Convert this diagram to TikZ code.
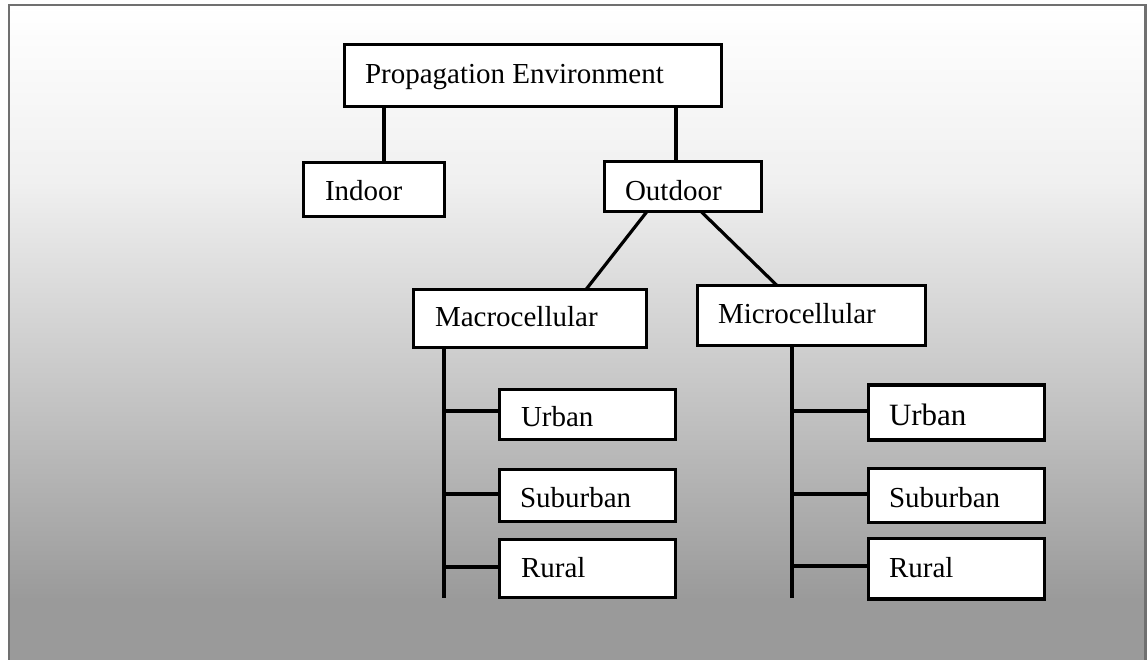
\documentclass[tikz,border=0pt]{standalone}
\usepackage{fontspec}
\setmainfont{Liberation Serif}
\usetikzlibrary{calc}

% background gradient: white at the top, mid grey towards the bottom
\definecolor{bgA}{RGB}{154,154,154}
\definecolor{bgB}{RGB}{200,200,200}
\definecolor{bgC}{RGB}{240,240,240}
\definecolor{framegray}{RGB}{112,112,112}
\pgfdeclareverticalshading{bgshade}{100bp}{%
  color(0bp)=(bgA); color(25bp)=(bgA); color(29.9bp)=(bgA);
  color(46.6bp)=(bgB); color(61.7bp)=(bgC); color(75bp)=(white);
  color(100bp)=(white)}

\tikzset{
  box/.style={draw=black, line width=3.4pt, fill=white, rectangle,
              inner sep=0pt, outer sep=0pt},
  lbl/.style={anchor=base west, inner sep=0pt, outer sep=0pt,
              font=\fontsize{29}{34}\selectfont},
  biglbl/.style={lbl, font=\fontsize{31}{36}\selectfont},
  link/.style={draw=black, line width=3.2pt},
}

\begin{document}
\begin{tikzpicture}[x=1pt, y=-1pt]
  \useasboundingbox (0,0) rectangle (1147,659);
  \clip (0,0) rectangle (1147,659);

  % shaded panel with grey frame
  \path[shading=bgshade, draw=framegray, line width=2.5pt]
    (8.75,5) rectangle (1145.5,665);

  % boxes (line-centre geometry)
  \node[box, minimum width=377, minimum height=62] (pe)      at (533,75.5)   {};
  \node[box, minimum width=141, minimum height=54] (indoor)  at (374,189.5)  {};
  \node[box, minimum width=157, minimum height=50] (outdoor) at (683,186.5)  {};
  \node[box, minimum width=233, minimum height=58] (macro)   at (530,318.5)  {};
  \node[box, minimum width=228, minimum height=60] (micro)   at (811.5,315.5){};

  \node[box, minimum width=176, minimum height=50] (mu) at (587.5,414.5) {};
  \node[box, minimum width=176, minimum height=52] (ms) at (587.5,495.5) {};
  \node[box, minimum width=176, minimum height=58] (mr) at (587.5,568.5) {};

  \node[box, minimum width=176, minimum height=55]   (uu) at (956.5,412.5)  {};
  \node[box, minimum width=176, minimum height=54]   (us) at (956.5,495.5)  {};
  \node[box, minimum width=176, minimum height=60.5] (ur) at (956.5,568.75) {};

  % labels
  \node[lbl] (pe-t)      at (365,83)  {Propagation Environment};
  \node[lbl] (indoor-t)  at (325,200) {Indoor};
  \node[lbl] (outdoor-t) at (625,200) {Outdoor};
  \node[lbl] (macro-t)   at (435,326) {Macrocellular};
  \node[lbl] (micro-t)   at (718,323) {Microcellular};
  \node[lbl] (mu-t) at (521,426) {Urban};
  \node[lbl] (ms-t) at (520,507) {Suburban};
  \node[lbl] (mr-t) at (521,577) {Rural};
  \node[biglbl] (uu-t) at (889,425) {Urban};
  \node[lbl]    (us-t) at (889,507) {Suburban};
  \node[lbl]    (ur-t) at (889,577) {Rural};

  % free ends of the two spines
  \coordinate (mspine) at (444,598);
  \coordinate (uspine) at (792,598);

  % tree connectors
  \draw[link] ([xshift=10]indoor.north) -- ([xshift=10]indoor.north |- pe.south);
  \draw[link] ([xshift=-7]outdoor.north) -- ([xshift=-7]outdoor.north |- pe.south);
  \draw[link] ([xshift=-36]outdoor.south) -- ([xshift=56]macro.north);
  \draw[link] ([xshift=18]outdoor.south) -- ([xshift=-34.5]micro.north);

  % macrocellular spine and branches
  \draw[link] ([xshift=-86]macro.south) -- (mspine);
  \draw[link] ([yshift=3.5]mu.west) -- ([yshift=3.5]mu.west -| mspine);
  \draw[link] ([yshift=1.5]ms.west) -- ([yshift=1.5]ms.west -| mspine);
  \draw[link] ([yshift=1.5]mr.west) -- ([yshift=1.5]mr.west -| mspine);

  % microcellular spine and branches
  \draw[link] ([xshift=-19.5]micro.south) -- (uspine);
  \draw[link] ([yshift=1.5]uu.west) -- ([yshift=1.5]uu.west -| uspine);
  \draw[link] ([yshift=1.5]us.west) -- ([yshift=1.5]us.west -| uspine);
  \draw[link] ([yshift=2.75]ur.west) -- ([yshift=2.75]ur.west -| uspine);
\end{tikzpicture}
\end{document}
